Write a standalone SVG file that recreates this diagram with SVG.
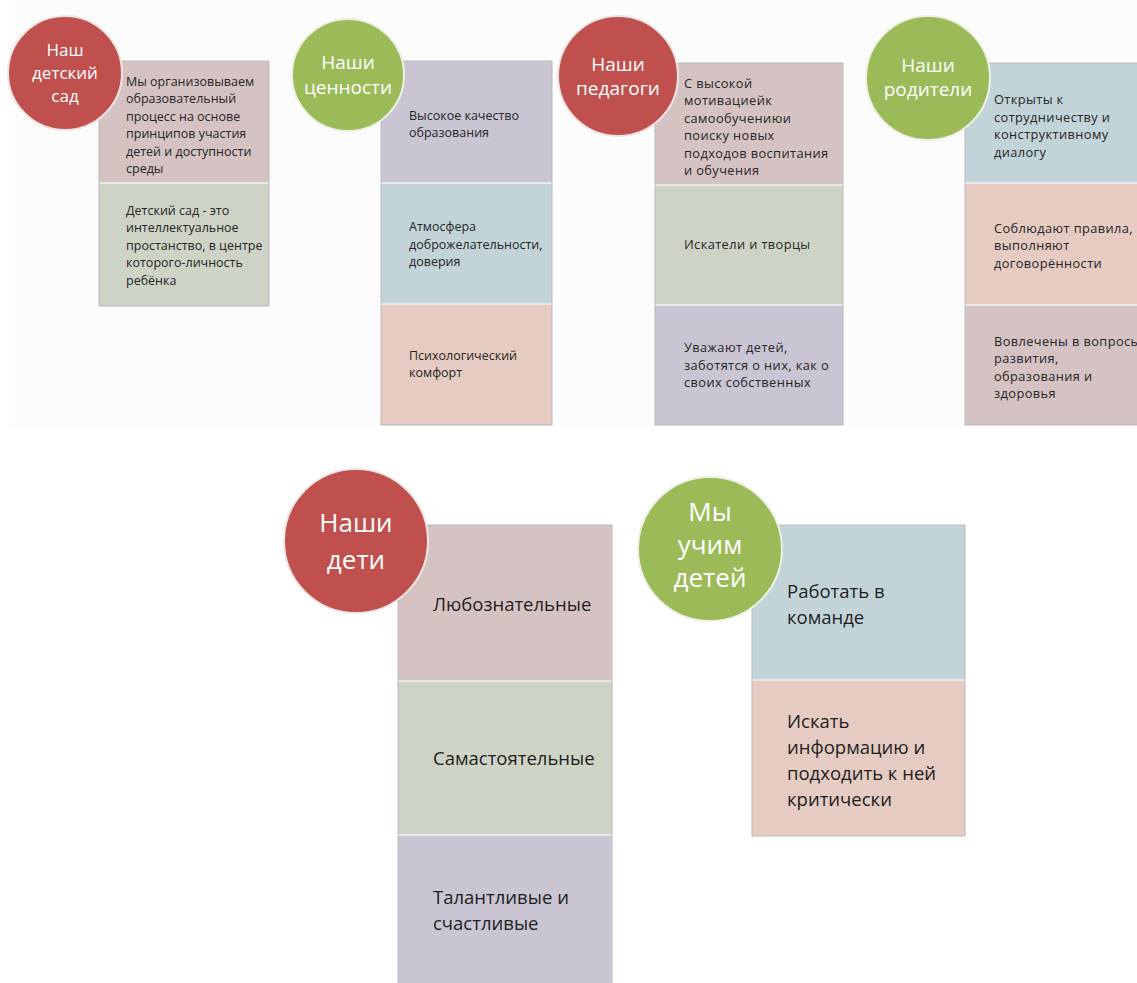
<svg xmlns="http://www.w3.org/2000/svg" width="1137" height="983" viewBox="0 0 1137 983">
<style>
.bg{fill:#fcfcfc}
.frame{fill:none;stroke:#b9b9b9;stroke-width:1}
.div{stroke:#f2f2f2;stroke-width:1.5}
.pink{fill:#d5c3c4}
.sage{fill:#cdd4c6}
.lav{fill:#cac5d3}
.blue{fill:#c3d4d9}
.peach{fill:#e5cbc1}
.red{fill:#c0504d;stroke:#efe6e6;stroke-width:2}
.green{fill:#9bbb59;stroke:#eef0e6;stroke-width:2}
.ct{font-family:"Open Sans","Noto Sans",sans-serif;fill:#ffffff;text-anchor:middle}
.t{font-family:"Open Sans","Noto Sans",sans-serif;fill:#262626;font-size:12.5px}
.t2{font-family:"Open Sans","Noto Sans",sans-serif;fill:#262626;font-size:12.8px;letter-spacing:0.4px}
.tb{font-family:"Open Sans","Noto Sans",sans-serif;fill:#1e1e1e;font-size:18.5px}
</style>
<rect x="0" y="0" width="1137" height="983" fill="#ffffff"/>
<rect class="bg" x="10" y="0" width="1127" height="426"/>

<g id="connectors"></g>

<g id="panel-sad">
  <rect class="pink" x="99" y="61" width="170" height="122"/>
  <rect class="sage" x="99" y="183" width="170" height="123"/>
  <line class="div" x1="99" y1="183" x2="269" y2="183"/>
  <rect class="frame" x="99" y="61" width="170" height="245"/>
  <text class="t" x="126"><tspan x="126" y="85.5">Мы организовываем</tspan><tspan x="126" y="103">образовательный</tspan><tspan x="126" y="120.5">процесс на основе</tspan><tspan x="126" y="138">принципов участия</tspan><tspan x="126" y="155.5">детей и доступности</tspan><tspan x="126" y="173">среды</tspan></text>
  <text class="t" x="126"><tspan x="126" y="214.5">Детский сад - это</tspan><tspan x="126" y="232">интеллектуальное</tspan><tspan x="126" y="249.5">простанство, в центре</tspan><tspan x="126" y="267">которого-личность</tspan><tspan x="126" y="284.5">ребёнка</tspan></text>
  <circle class="red" cx="65" cy="73" r="57"/>
  <text class="ct" font-size="17"><tspan x="65" y="56">Наш</tspan><tspan x="65" y="79">детский</tspan><tspan x="65" y="102">сад</tspan></text>
</g>

<g id="panel-values">
  <rect class="lav" x="381" y="61" width="171" height="122"/>
  <rect class="blue" x="381" y="183" width="171" height="121"/>
  <rect class="peach" x="381" y="304" width="171" height="121"/>
  <line class="div" x1="381" y1="183" x2="552" y2="183"/>
  <line class="div" x1="381" y1="304" x2="552" y2="304"/>
  <rect class="frame" x="381" y="61" width="171" height="364"/>
  <text class="t"><tspan x="409" y="119.5">Высокое качество</tspan><tspan x="409" y="136.7">образования</tspan></text>
  <text class="t"><tspan x="409" y="231.3">Атмосфера</tspan><tspan x="409" y="248.5">доброжелательности,</tspan><tspan x="409" y="265.7">доверия</tspan></text>
  <text class="t"><tspan x="409" y="359.5">Психологический</tspan><tspan x="409" y="376.7">комфорт</tspan></text>
  <circle class="green" cx="348" cy="75" r="56"/>
  <text class="ct" font-size="19"><tspan x="348" y="69">Наши</tspan><tspan x="348" y="94">ценности</tspan></text>
</g>

<g id="panel-teachers">
  <rect class="pink" x="655" y="63" width="188" height="122"/>
  <rect class="sage" x="655" y="185" width="188" height="120"/>
  <rect class="lav" x="655" y="305" width="188" height="120"/>
  <line class="div" x1="655" y1="185" x2="843" y2="185"/>
  <line class="div" x1="655" y1="305" x2="843" y2="305"/>
  <rect class="frame" x="655" y="63" width="188" height="362"/>
  <text class="t2"><tspan x="684" y="87.6">С высокой</tspan><tspan x="684" y="105.1">мотивациейк</tspan><tspan x="684" y="122.6">самообучениюи</tspan><tspan x="684" y="140.1">поиску новых</tspan><tspan x="684" y="157.6">подходов воспитания</tspan><tspan x="684" y="175.1">и обучения</tspan></text>
  <text class="t2"><tspan x="684" y="249">Искатели и творцы</tspan></text>
  <text class="t2"><tspan x="684" y="352">Уважают детей,</tspan><tspan x="684" y="369.5">заботятся о них, как о</tspan><tspan x="684" y="387">своих собственных</tspan></text>
  <circle class="red" cx="618" cy="76" r="60"/>
  <text class="ct" font-size="19"><tspan x="618" y="71">Наши</tspan><tspan x="618" y="95">педагоги</tspan></text>
</g>

<g id="panel-parents">
  <rect class="blue" x="965" y="63" width="180" height="120"/>
  <rect class="peach" x="965" y="183" width="180" height="122"/>
  <rect class="pink" x="965" y="305" width="180" height="120"/>
  <line class="div" x1="965" y1="183" x2="1137" y2="183"/>
  <line class="div" x1="965" y1="305" x2="1137" y2="305"/>
  <rect class="frame" x="965" y="63" width="180" height="362"/>
  <text class="t2"><tspan x="994" y="104">Открыты к</tspan><tspan x="994" y="121.5">сотрудничеству и</tspan><tspan x="994" y="139">конструктивному</tspan><tspan x="994" y="156.5">диалогу</tspan></text>
  <text class="t2"><tspan x="994" y="232.5">Соблюдают правила,</tspan><tspan x="994" y="250">выполняют</tspan><tspan x="994" y="267.5">договорённости</tspan></text>
  <text class="t2"><tspan x="994" y="345.5">Вовлечены в вопросы</tspan><tspan x="994" y="363">развития,</tspan><tspan x="994" y="380.5">образования и</tspan><tspan x="994" y="398">здоровья</tspan></text>
  <circle class="green" cx="928" cy="78" r="62"/>
  <text class="ct" font-size="19"><tspan x="928" y="72">Наши</tspan><tspan x="928" y="96">родители</tspan></text>
</g>

<g id="panel-children">
  <rect class="pink" x="398" y="525" width="214" height="156"/>
  <rect class="sage" x="398" y="681" width="214" height="154"/>
  <rect class="lav" x="398" y="835" width="214" height="150"/>
  <line class="div" x1="398" y1="681" x2="612" y2="681"/>
  <line class="div" x1="398" y1="835" x2="612" y2="835"/>
  <rect class="frame" x="398" y="525" width="214" height="460"/>
  <text class="tb"><tspan x="433" y="610.5">Любознательные</tspan></text>
  <text class="tb"><tspan x="433" y="764.5">Самастоятельные</tspan></text>
  <text class="tb"><tspan x="433" y="903.5">Талантливые и</tspan><tspan x="433" y="929.5">счастливые</tspan></text>
  <circle class="red" cx="356" cy="541" r="72"/>
  <text class="ct" font-size="26"><tspan x="356" y="532">Наши</tspan><tspan x="356" y="569">дети</tspan></text>
</g>

<g id="panel-teach">
  <rect class="blue" x="752" y="525" width="213" height="155"/>
  <rect class="peach" x="752" y="680" width="213" height="156"/>
  <line class="div" x1="752" y1="680" x2="965" y2="680"/>
  <rect class="frame" x="752" y="525" width="213" height="311"/>
  <text class="tb"><tspan x="787" y="597.5">Работать в</tspan><tspan x="787" y="623.5">команде</tspan></text>
  <text class="tb"><tspan x="787" y="727.5">Искать</tspan><tspan x="787" y="753.5">информацию и</tspan><tspan x="787" y="779.5">подходить к ней</tspan><tspan x="787" y="805.5">критически</tspan></text>
  <circle class="green" cx="710" cy="549" r="72"/>
  <text class="ct" font-size="26"><tspan x="710" y="521">Мы</tspan><tspan x="710" y="554">учим</tspan><tspan x="710" y="587">детей</tspan></text>
</g>
</svg>
